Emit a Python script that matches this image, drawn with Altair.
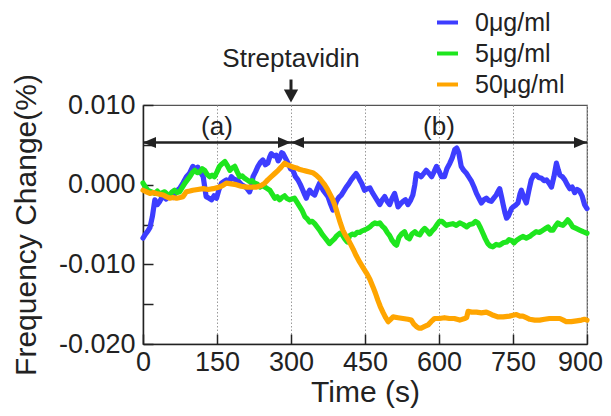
import altair as alt
import pandas as pd

# ---------------- data ----------------
SERIES = ["0μg/ml", "5μg/ml", "50μg/ml"]
COLORS = ["#3d3dff", "#1ee61e", "#ffa500"]

t_0 = [0, 5, 10, 14, 19, 24, 29, 34, 40, 47, 54, 61, 67, 74, 81, 88, 94, 101, 106, 111,
       116, 122, 128, 134, 139, 144, 149, 154, 159, 164, 169, 174, 179, 184, 189, 194, 200,
       205, 210, 216, 220, 223, 228, 233, 238, 243, 248, 253, 257, 260, 265, 270, 274, 277,
       281, 284, 289, 294, 299, 304, 309, 314, 319, 324, 328, 331, 335, 338, 343, 348, 353,
       358, 362, 365, 370, 375, 380, 385, 389, 392, 397, 402, 407, 412, 417, 422, 427, 432,
       436, 440, 443, 449, 455, 460, 465, 470, 475, 480, 485, 490, 495, 500, 505, 510, 514,
       517, 522, 527, 532, 537, 542, 547, 551, 554, 559, 564, 569, 574, 580, 585, 590, 595,
       600, 605, 611, 616, 622, 627, 632, 636, 640, 645, 650, 656, 661, 666, 671, 676, 681,
       686, 691, 696, 701, 706, 711, 716, 720, 723, 727, 730, 734, 737, 740, 743, 747, 750,
       755, 760, 764, 767, 772, 777, 782, 787, 792, 797, 802, 808, 813, 818, 823, 828, 833,
       838, 842, 845, 850, 855, 860, 865, 870, 875, 880, 885, 890, 895, 900]
v_0 = [-0.0067, -0.0062, -0.0058, -0.0054, -0.0040, -0.0019, -0.0025, -0.0021, -0.0014,
       -0.0018, -0.0013, -0.0016, -0.0008, -0.0005, 0.0002, 0.0010, 0.0014, 0.0023, 0.0019,
       0.0022, 0.0016, 0.0010, -0.0015, -0.0017, -0.0019, -0.0014, -0.0017, -0.0006, 0.0002,
       0.0004, 0.0006, 0.0003, 0.0010, 0.0007, 0.0006, 0.0004, 0.0000, -0.0002, -0.0004,
       -0.0009, -0.0002, 0.0010, 0.0016, 0.0023, 0.0028, 0.0031, 0.0025, 0.0027, 0.0035,
       0.0039, 0.0036, 0.0037, 0.0030, 0.0033, 0.0040, 0.0039, 0.0033, 0.0027, 0.0020,
       0.0018, 0.0010, 0.0006, 0.0000, -0.0007, -0.0013, -0.0017, -0.0010, -0.0007, -0.0011,
       -0.0013, -0.0005, 0.0002, -0.0003, -0.0007, -0.0011, -0.0015, -0.0024, -0.0032,
       -0.0027, -0.0021, -0.0016, -0.0013, -0.0008, -0.0003, 0.0001, 0.0006, 0.0010, 0.0014,
       0.0010, 0.0005, 0.0002, -0.0007, -0.0005, -0.0004, -0.0010, -0.0015, -0.0020, -0.0025,
       -0.0019, -0.0015, -0.0021, -0.0025, -0.0017, -0.0011, -0.0020, -0.0028, -0.0024,
       -0.0021, -0.0019, -0.0025, -0.0020, -0.0013, 0.0000, 0.0014, 0.0012, 0.0010, 0.0014,
       0.0018, 0.0014, 0.0010, 0.0016, 0.0023, 0.0017, 0.0010, 0.0010, 0.0020, 0.0027,
       0.0034, 0.0044, 0.0046, 0.0040, 0.0023, 0.0018, 0.0014, 0.0009, 0.0004, -0.0003,
       -0.0011, -0.0017, -0.0023, -0.0019, -0.0017, -0.0020, -0.0021, -0.0017, -0.0013,
       -0.0008, -0.0005, -0.0016, -0.0025, -0.0036, -0.0042, -0.0040, -0.0036, -0.0030,
       -0.0028, -0.0026, -0.0023, -0.0012, -0.0007, -0.0016, -0.0023, -0.0008, 0.0006,
       0.0012, 0.0012, 0.0009, 0.0008, 0.0005, 0.0006, 0.0002, -0.0003, 0.0010, 0.0027,
       0.0018, 0.0012, 0.0010, 0.0006, 0.0000, -0.0005, -0.0003, -0.0010, -0.0006, -0.0008,
       -0.0014, -0.0025, -0.0030]

t_5 = [0, 5, 10, 17, 24, 29, 34, 39, 44, 49, 54, 59, 64, 69, 74, 79, 85, 90, 95, 100, 105,
       110, 115, 120, 125, 130, 135, 140, 145, 150, 155, 160, 166, 171, 176, 181, 186, 191,
       196, 201, 206, 211, 216, 221, 226, 231, 237, 242, 247, 252, 257, 262, 267, 272, 277,
       282, 287, 291, 297, 302, 307, 312, 318, 323, 328, 333, 338, 343, 348, 353, 358, 363,
       368, 373, 378, 383, 388, 393, 399, 404, 409, 414, 419, 424, 429, 434, 439, 444, 449,
       455, 460, 465, 470, 475, 480, 485, 490, 495, 500, 505, 510, 514, 519, 524, 530, 535,
       540, 545, 551, 556, 561, 566, 571, 576, 581, 586, 591, 596, 601, 606, 611, 615, 620,
       628, 635, 642, 649, 656, 662, 669, 674, 679, 684, 689, 694, 699, 704, 709, 716, 723,
       730, 737, 742, 747, 752, 757, 764, 770, 777, 784, 790, 797, 804, 811, 816, 821, 826,
       831, 836, 841, 846, 851, 856, 861, 866, 871, 878, 885, 892, 900]
v_5 = [0.0002, -0.0003, -0.0007, -0.0009, -0.0011, -0.0008, -0.0012, -0.0010, -0.0009,
       -0.0012, -0.0013, -0.0009, -0.0007, -0.0010, -0.0009, -0.0004, 0.0002, 0.0006, 0.0010,
       0.0015, 0.0018, 0.0015, 0.0016, 0.0020, 0.0018, 0.0013, 0.0010, 0.0012, 0.0010,
       0.0016, 0.0023, 0.0026, 0.0029, 0.0024, 0.0018, 0.0021, 0.0023, 0.0016, 0.0010,
       0.0011, 0.0008, 0.0006, 0.0004, 0.0005, 0.0002, 0.0001, -0.0003, -0.0001, -0.0003,
       -0.0005, -0.0007, -0.0012, -0.0017, -0.0015, -0.0019, -0.0016, -0.0014, -0.0017,
       -0.0019, -0.0018, -0.0017, -0.0022, -0.0028, -0.0033, -0.0040, -0.0043, -0.0047,
       -0.0046, -0.0049, -0.0053, -0.0057, -0.0062, -0.0066, -0.0070, -0.0074, -0.0071,
       -0.0068, -0.0064, -0.0061, -0.0063, -0.0068, -0.0072, -0.0064, -0.0062, -0.0063,
       -0.0060, -0.0060, -0.0058, -0.0057, -0.0055, -0.0053, -0.0050, -0.0048, -0.0049,
       -0.0048, -0.0052, -0.0055, -0.0060, -0.0064, -0.0070, -0.0074, -0.0076, -0.0066,
       -0.0062, -0.0059, -0.0066, -0.0068, -0.0062, -0.0059, -0.0062, -0.0063, -0.0058,
       -0.0055, -0.0058, -0.0062, -0.0058, -0.0055, -0.0050, -0.0046, -0.0046, -0.0049,
       -0.0051, -0.0050, -0.0049, -0.0051, -0.0048, -0.0050, -0.0053, -0.0050, -0.0049,
       -0.0046, -0.0048, -0.0054, -0.0061, -0.0068, -0.0074, -0.0077, -0.0078, -0.0075,
       -0.0076, -0.0073, -0.0072, -0.0069, -0.0070, -0.0073, -0.0070, -0.0067, -0.0065,
       -0.0067, -0.0065, -0.0062, -0.0059, -0.0060, -0.0057, -0.0055, -0.0053, -0.0057,
       -0.0057, -0.0052, -0.0048, -0.0050, -0.0051, -0.0048, -0.0044, -0.0048, -0.0053,
       -0.0055, -0.0057, -0.0059, -0.0061]

t_50 = [0, 7, 14, 21, 27, 34, 41, 47, 54, 61, 68, 75, 81, 88, 95, 101, 111, 122, 132, 142,
        155, 162, 169, 179, 189, 199, 210, 220, 230, 240, 247, 253, 260, 267, 274, 280, 287,
        292, 297, 304, 311, 318, 324, 331, 338, 344, 351, 358, 363, 368, 374, 379, 384, 389,
        395, 400, 405, 410, 416, 421, 426, 432, 439, 446, 453, 460, 466, 471, 476, 481, 487,
        492, 497, 502, 507, 517, 527, 537, 544, 549, 554, 559, 564, 571, 578, 584, 591, 601,
        611, 621, 631, 642, 652, 656, 659, 666, 676, 686, 696, 703, 710, 720, 730, 743, 750,
        757, 764, 770, 777, 784, 794, 804, 814, 824, 835, 845, 852, 858, 868, 879, 889, 895,
        900]
v_50 = [-0.0007, -0.0009, -0.0011, -0.0010, -0.0011, -0.0012, -0.0013, -0.0015, -0.0017,
        -0.0016, -0.0017, -0.0016, -0.0015, -0.0009, -0.0008, -0.0007, -0.0006, -0.0005,
        -0.0006, -0.0005, -0.0003, -0.0001, 0.0002, 0.0001, 0.0000, -0.0002, -0.0003, -0.0003,
        -0.0003, -0.0001, 0.0002, 0.0006, 0.0010, 0.0014, 0.0018, 0.0022, 0.0027, 0.0025,
        0.0024, 0.0022, 0.0021, 0.0019, 0.0018, 0.0017, 0.0016, 0.0015, 0.0012, 0.0008,
        0.0004, 0.0000, -0.0006, -0.0012, -0.0018, -0.0026, -0.0038, -0.0048, -0.0057,
        -0.0063, -0.0069, -0.0075, -0.0081, -0.0089, -0.0097, -0.0104, -0.0111, -0.0119,
        -0.0128, -0.0136, -0.0145, -0.0153, -0.0161, -0.0167, -0.0172, -0.0169, -0.0166,
        -0.0167, -0.0168, -0.0169, -0.0170, -0.0175, -0.0178, -0.0180, -0.0180, -0.0178,
        -0.0176, -0.0172, -0.0168, -0.0168, -0.0167, -0.0168, -0.0168, -0.0170, -0.0168,
        -0.0167, -0.0159, -0.0160, -0.0160, -0.0161, -0.0160, -0.0162, -0.0164, -0.0166,
        -0.0166, -0.0165, -0.0164, -0.0163, -0.0165, -0.0165, -0.0167, -0.0169, -0.0170,
        -0.0170, -0.0169, -0.0168, -0.0168, -0.0168, -0.0170, -0.0172, -0.0172, -0.0171,
        -0.0170, -0.0169, -0.0170]

X_TICKS = [0, 150, 300, 450, 600, 750, 900]
Y_TICKS = [-0.02, -0.01, 0.0, 0.01]
Y_MINOR = [-0.02, -0.015, -0.01, -0.005, 0.0, 0.005, 0.01]

# period annotations (a) and (b)
SEG_NAMES = ["(a)", "(b)"]
SEG_START = [0, 300]
SEG_END = [300, 900]
SEG_MID = [150, 600]
ARROW_LEVEL = 0.0053
LABEL_LEVEL = 0.0073

# Streptavidin injection marker
INJECT_T = 300
INJECT_TEXT = "Streptavidin"
INJECT_TEXT_LEVEL = 0.0158
INJECT_SHAFT = [0.0132, 0.0115]
INJECT_TIP = 0.0103

# ---------------- build tables ----------------
rows = []
for name, ts, vs in zip(SERIES, [t_0, t_5, t_50], [v_0, v_5, v_50]):
    for t, v in zip(ts, vs):
        rows.append({"t": t, "v": v, "series": name})
df = pd.DataFrame(rows)

seg_df = pd.DataFrame({"name": SEG_NAMES, "start": SEG_START, "end": SEG_END,
                       "mid": SEG_MID, "y": [ARROW_LEVEL] * 2, "ly": [LABEL_LEVEL] * 2})
left_heads = pd.DataFrame({"x": SEG_START, "y": [ARROW_LEVEL] * 2})
right_heads = pd.DataFrame({"x": SEG_END, "y": [ARROW_LEVEL] * 2})
inj_df = pd.DataFrame({"x": [INJECT_T], "y": [INJECT_SHAFT[0]], "y2": [INJECT_SHAFT[1]],
                       "tip": [INJECT_TIP], "ty": [INJECT_TEXT_LEVEL], "label": [INJECT_TEXT]})

W, H = 444, 239
INK = "#222222"
x_scale = alt.Scale(domain=[0, 900], nice=False, zero=False)
y_scale = alt.Scale(domain=[-0.02, 0.01], nice=False, zero=False)

y_label_expr = "replace(format(datum.value, '.3f'), '\u2212', '-')"


def X(field):
    return alt.X(field, type="quantitative", scale=x_scale, axis=None)


def Y(field):
    return alt.Y(field, type="quantitative", scale=y_scale, axis=None)


lines = alt.Chart(df).mark_line(strokeWidth=5.2, strokeJoin="round", strokeCap="round").encode(
    x=alt.X("t:Q", scale=x_scale,
            axis=alt.Axis(orient="bottom", values=X_TICKS, ticks=False, tickSize=0,
                          grid=True, gridColor="#9a9a9a", gridDash=[1.5, 2], gridWidth=1,
                          labelFontSize=27, labelPadding=5, labelFlush=False,
                          labelOverlap=False, labelColor=INK,
                          labelOffset={"condition": {"test": "datum.value >= 900",
                                                     "value": -7}, "value": 0},
                          title="Time (s)", titleFontSize=30, titleFontWeight="normal",
                          titlePadding=2, titleColor=INK,
                          domainColor=INK, domainWidth=1.5)),
    y=alt.Y("v:Q", scale=y_scale,
            axis=alt.Axis(orient="left", values=Y_TICKS, ticks=False, tickSize=0, grid=False,
                          labelExpr=y_label_expr, labelFontSize=27, labelPadding=8,
                          labelFlush=False, labelOverlap=False, labelColor=INK,
                          title="Frequency Change(%)", titleFontSize=30,
                          titleFontWeight="normal", titlePadding=17, titleColor=INK,
                          domainColor=INK, domainWidth=1.5)),
    color=alt.Color("series:N", scale=alt.Scale(domain=SERIES, range=COLORS),
                    legend=alt.Legend(orient="none", legendX=292, legendY=-95, title=None,
                                      symbolType="stroke", symbolSize=441,
                                      symbolStrokeWidth=4, labelFontSize=25,
                                      labelOffset=15, rowPadding=5, padding=0,
                                      labelColor=INK)),
)

arrows = alt.Chart(seg_df).mark_rule(strokeWidth=2.5, color=INK).encode(
    x=alt.X("start:Q", scale=x_scale,
            axis=alt.Axis(orient="top", offset=-H, values=X_TICKS, labels=False,
                          domain=False, ticks=True, tickSize=10, tickWidth=1.5,
                          tickColor=INK, grid=False, title="")),
    x2="end:Q",
    y=alt.Y("y:Q", scale=y_scale,
            axis=alt.Axis(orient="right", offset=-W, values=Y_MINOR, labels=False,
                          domain=False, ticks=True, tickSize=10, tickWidth=1.5,
                          tickColor=INK, grid=False, title="")),
)

lh = alt.Chart(left_heads).mark_point(shape="M0,0L1,-0.42L1,0.42Z", size=676, filled=True,
                                      opacity=1, color=INK).encode(x=X("x"), y=Y("y"))
rh = alt.Chart(right_heads).mark_point(shape="M0,0L-1,-0.42L-1,0.42Z", size=676, filled=True,
                                       opacity=1, color=INK).encode(x=X("x"), y=Y("y"))

seg_text = alt.Chart(seg_df).mark_text(fontSize=26, color=INK, baseline="middle").encode(
    x=X("mid"), y=Y("ly"), text="name:N")

inj_shaft = alt.Chart(inj_df).mark_rule(strokeWidth=3, color=INK).encode(
    x=X("x"), y=Y("y"), y2="y2:Q")
inj_head = alt.Chart(inj_df).mark_point(shape="M0,0L-0.55,-1L0.55,-1Z", size=676,
                                        filled=True, opacity=1, color=INK).encode(
    x=X("x"), y=Y("tip"))
inj_text = alt.Chart(inj_df).mark_text(fontSize=26, color=INK, baseline="middle").encode(
    x=X("x"), y=Y("ty"), text="label:N")

chart = alt.layer(
    lines, arrows, lh, rh, seg_text, inj_shaft, inj_head, inj_text
).resolve_axis(
    x="independent", y="independent"
).properties(
    width=W, height=H,
    autosize=alt.AutoSizeParams(type="none"),
    padding={"left": 135, "top": 97, "right": 16, "bottom": 64},
).configure(
    font="Liberation Sans",
).configure_view(
    stroke="#555555", strokeWidth=1.2,
)

chart.save("out.html", embed_options={"renderer": "svg", "actions": False})
